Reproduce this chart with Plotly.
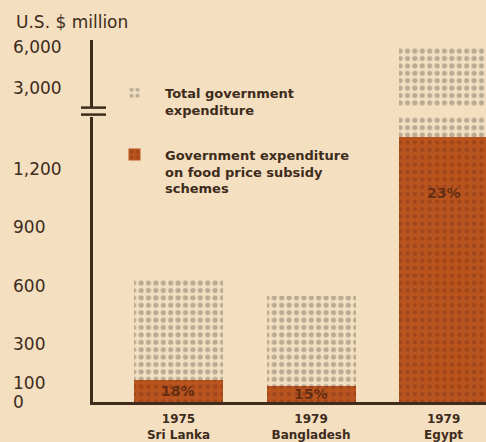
import plotly.graph_objects as go

# Government expenditure, U.S. $ million
years = ["1975", "1979", "1979"]
countries = ["Sri Lanka", "Bangladesh", "Egypt"]
total_expenditure = [630, 550, 5950]
subsidy_share = [0.18, 0.15, 0.23]

lower_ticks = [0, 100, 300, 600, 900, 1200]
upper_ticks = [3000, 6000]

categories = [f"{y}<br>{c}" for y, c in zip(years, countries)]
subsidy_expenditure = [t * s for t, s in zip(total_expenditure, subsidy_share)]
share_text = [f"{round(s * 100)}%" for s in subsidy_share]

BG = "#f4dfc0"
INK = "#3d2c1c"
ORANGE = "#ba541e"
ORANGE_DOT = "#a0461a"
GREY_DOT = "#b9aa94"

W, H = 486, 442
ML, MR, MT, MB = 12, 0, 40, 38
PW, PH = W - ML - MR, H - MT - MB
AXIS_X = 93
X_AXIS_Y = H - MB


def px_x(px):
    return (px - ML) / PW


def px_y(py):
    return (X_AXIS_Y - py) / PH


lower_dom = [0, px_y(117)]
upper_dom = [px_y(107), 1]
lower_range = [0, (X_AXIS_Y - 117) / 0.195]
upper_range = [1610, 6512]

bar_w = 0.672
total_marker = dict(
    color=BG,
    line=dict(width=0),
    pattern=dict(shape=".", fgcolor=GREY_DOT, bgcolor=BG, size=7.4,
                 solidity=0.38, fillmode="replace"),
)
subsidy_marker = dict(
    color=ORANGE,
    line=dict(width=0),
    pattern=dict(shape=".", fgcolor=ORANGE_DOT, bgcolor=ORANGE, size=7.4,
                 solidity=0.3, fillmode="replace"),
)

fig = go.Figure()
for yax, show in (("y", True), ("y2", False)):
    fig.add_trace(go.Bar(
        x=categories, y=total_expenditure, width=bar_w, yaxis=yax,
        name="Total government<br>expenditure", legendgroup="total",
        showlegend=show, marker=total_marker, hoverinfo="skip",
    ))
    fig.add_trace(go.Bar(
        x=categories, y=subsidy_expenditure, width=bar_w, yaxis=yax,
        name="Government expenditure<br>on food price subsidy<br>schemes",
        legendgroup="subsidy", showlegend=show, marker=subsidy_marker,
        hoverinfo="skip",
    ))

# carriers for the left-aligned value labels
for yax, rng in (("y3", lower_range), ("y4", upper_range)):
    fig.add_trace(go.Scatter(
        x=[categories[0]], y=[rng[1]], yaxis=yax, mode="markers",
        marker=dict(opacity=0), showlegend=False, hoverinfo="skip",
    ))

tick_font = dict(family="DejaVu Sans", size=17, color=INK)
bold = dict(family="DejaVu Sans", weight="bold", color=INK)

fig.update_layout(
    width=W, height=H,
    margin=dict(l=ML, r=MR, t=MT, b=MB, pad=0),
    paper_bgcolor=BG, plot_bgcolor=BG,
    barmode="overlay", bargap=0,
    showlegend=True,
    legend=dict(
        x=px_x(104), y=px_y(78), xanchor="left", yanchor="top",
        bgcolor="rgba(0,0,0,0)", borderwidth=0,
        font=dict(size=13, **bold), itemwidth=51, valign="top",
        tracegroupgap=25, traceorder="grouped",
        itemclick=False, itemdoubleclick=False,
    ),
    xaxis=dict(
        domain=[px_x(AXIS_X), 1], range=[-0.645, 2.32], type="category",
        anchor="y", showline=True, linecolor=INK, linewidth=3,
        showgrid=False, zeroline=False, ticks="",
        tickfont=dict(size=12, **bold), ticklabelstandoff=4,
    ),
    yaxis=dict(
        domain=lower_dom, range=lower_range, anchor="x",
        showline=True, linecolor=INK, linewidth=3,
        showgrid=False, zeroline=False, ticks="", showticklabels=False,
    ),
    yaxis2=dict(
        domain=upper_dom, range=upper_range, anchor="x",
        showline=True, linecolor=INK, linewidth=3,
        showgrid=False, zeroline=False, ticks="", showticklabels=False,
    ),
    yaxis3=dict(
        overlaying="y", range=lower_range, side="right", anchor="free",
        position=0, showline=False, showgrid=False, zeroline=False,
        ticks="", tickvals=lower_ticks, tickformat=",", tickfont=tick_font,
    ),
    yaxis4=dict(
        overlaying="y2", range=upper_range, side="right", anchor="free",
        position=0, showline=False, showgrid=False, zeroline=False,
        ticks="", tickvals=upper_ticks, tickformat=",", tickfont=tick_font,
    ),
)

# unit label above the value axis
fig.add_annotation(
    text="U.S. $ million", xref="paper", yref="paper",
    x=px_x(14), y=px_y(22), xanchor="left", yanchor="middle",
    showarrow=False, font=dict(family="DejaVu Sans", size=17, color=INK),
)

# share of total spent on food subsidies, printed inside the orange bars
for cat, sub, txt in zip(categories, subsidy_expenditure, share_text):
    fig.add_annotation(
        text=txt, x=cat, y=max(sub / 2, sub - 290), xref="x", yref="y",
        showarrow=False, yanchor="middle",
        font=dict(family="DejaVu Sans", size=14, weight="bold",
                  color="rgba(70,32,16,0.72)"),
    )

# axis-break marks on the value axis
for py in (108, 115):
    fig.add_shape(
        type="line", xref="paper", yref="paper",
        x0=px_x(81), x1=px_x(106), y0=px_y(py), y1=px_y(py),
        line=dict(color=INK, width=2.5),
    )

fig.write_html("out.html")
